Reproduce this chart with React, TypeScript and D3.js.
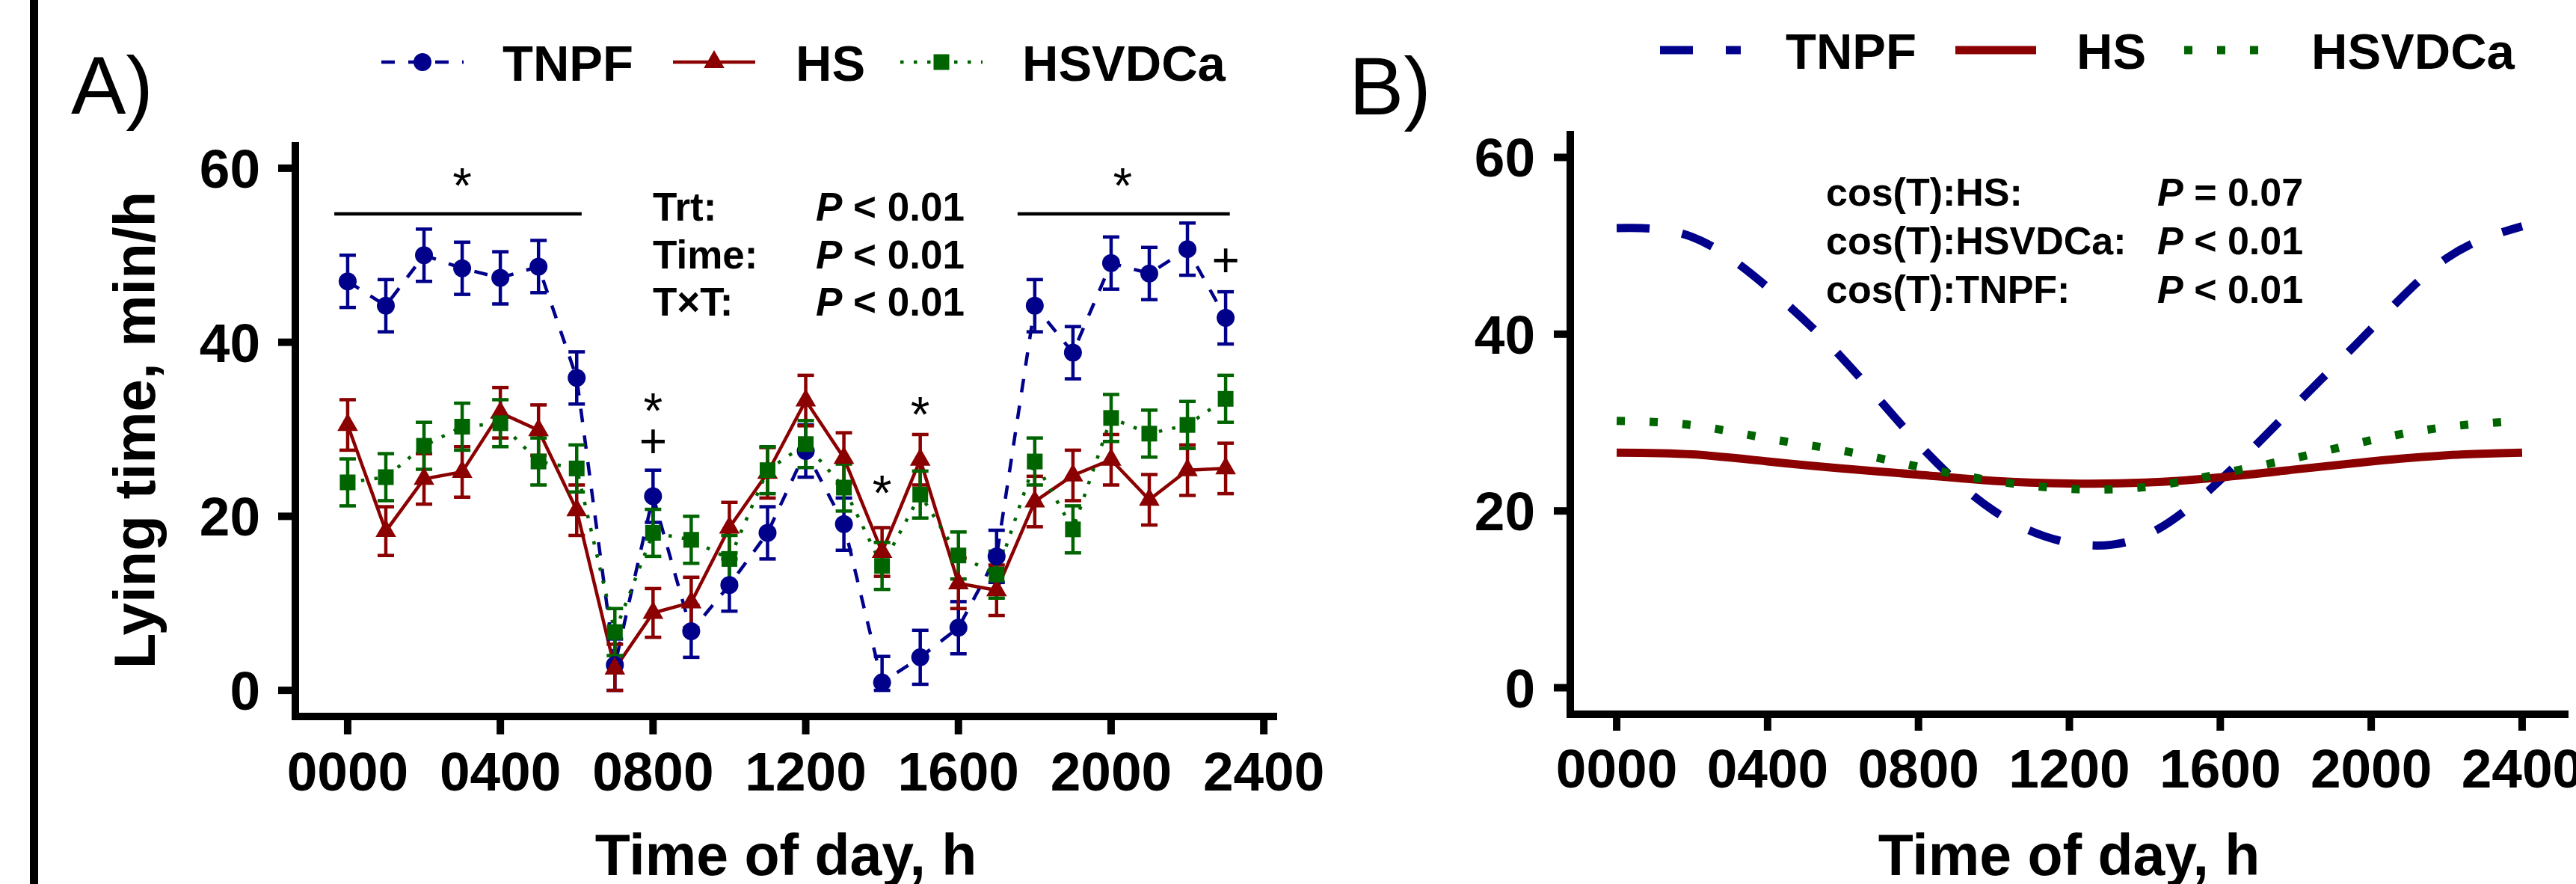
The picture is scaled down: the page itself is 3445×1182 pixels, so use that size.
import React from 'react';
import * as d3 from 'd3';

// hourly means (min/h lying)
const hours = [0, 1, 2, 3, 4, 5, 6, 7, 8, 9, 10, 11, 12, 13, 14, 15, 16, 17, 18, 19, 20, 21, 22, 23];
const tnpfMean = [47.0, 44.2, 50.0, 48.5, 47.4, 48.7, 35.9, 2.9, 22.3, 6.8, 12.1, 18.1, 27.5, 19.1, 0.9, 3.8, 7.2, 15.4, 44.2, 38.8, 49.1, 47.9, 50.7, 42.8];
const tnpfSe = [3.0, 3.0, 3.0, 3.0, 3.0, 3.0, 3.0, 3.0, 3.0, 3.0, 3.0, 3.0, 3.0, 3.0, 3.0, 3.1, 3.0, 3.0, 3.0, 3.0, 3.0, 3.0, 3.0, 3.0];
const hsMean = [30.5, 18.3, 24.3, 25.1, 31.9, 29.9, 20.7, 2.5, 8.9, 10.1, 18.7, 25.0, 33.3, 26.7, 15.9, 26.5, 12.3, 11.5, 21.7, 24.7, 26.5, 21.9, 25.3, 25.5];
const hsSe = [2.9, 2.8, 2.9, 2.9, 2.9, 2.9, 2.9, 2.8, 2.8, 2.9, 2.9, 2.9, 2.9, 2.9, 2.8, 2.9, 2.9, 2.9, 2.9, 2.9, 2.9, 2.9, 2.9, 2.9];
const hsvdcaMean = [23.9, 24.5, 28.1, 30.3, 30.7, 26.3, 25.5, 6.7, 18.1, 17.3, 15.1, 25.3, 28.3, 23.3, 14.3, 22.5, 15.5, 13.3, 26.3, 18.5, 31.3, 29.5, 30.5, 33.5];
const hsvdcaSe = [2.7, 2.7, 2.7, 2.7, 2.7, 2.7, 2.7, 2.7, 2.7, 2.7, 2.7, 2.7, 2.7, 2.7, 2.7, 2.7, 2.7, 2.7, 2.7, 2.7, 2.7, 2.7, 2.7, 2.7];

// fitted cosinor curves
const fitHours = [0, 2, 4, 6, 8, 10, 12, 14, 16, 18, 20, 22, 24];
const tnpfFit = [52.0, 51.0, 45.3, 37.2, 27.6, 20.0, 16.4, 17.2, 23.5, 32.0, 40.6, 48.6, 52.2];
const hsFit = [26.6, 26.4, 25.6, 24.8, 24.1, 23.4, 23.1, 23.2, 23.8, 24.7, 25.6, 26.3, 26.6];
const hsvdcaFit = [30.2, 29.7, 28.2, 26.8, 25.0, 23.4, 22.5, 22.7, 24.2, 26.0, 28.0, 29.5, 30.2];

const xTickValues = [0, 4, 8, 12, 16, 20, 24];
const xTickLabels = ['0000', '0400', '0800', '1200', '1600', '2000', '2400'];
const yTickValues = [0, 20, 40, 60];

const statsA = [
  { label: 'Trt:', op: '<', p: '0.01' },
  { label: 'Time:', op: '<', p: '0.01' },
  { label: 'T\u00d7T:', op: '<', p: '0.01' },
];
const statsB = [
  { label: 'cos(T):HS:', op: '=', p: '0.07' },
  { label: 'cos(T):HSVDCa:', op: '<', p: '0.01' },
  { label: 'cos(T):TNPF:', op: '<', p: '0.01' },
];

// significance marks on panel A, in data units (hour, min/h)
const sigBars = [
  { from: -0.35, to: 6.13, y: 54.75 },
  { from: 17.55, to: 23.11, y: 54.75 },
];
const sigMarks = [
  { h: 3, y: 59.3, s: '*' },
  { h: 20.3, y: 59.3, s: '*' },
  { h: 8, y: 33.4, s: '*' },
  { h: 8, y: 28.6, s: '+' },
  { h: 14, y: 24.0, s: '*' },
  { h: 15, y: 33.0, s: '*' },
  { h: 23, y: 49.4, s: '+' },
];

const BLUE = '#00008B';
const RED = '#8B0000';
const GREEN = '#006400';
const FONT = "'Liberation Sans', Arial, Helvetica, sans-serif";

const seriesA = [
  { name: 'TNPF', mean: tnpfMean, se: tnpfSe, color: BLUE, dash: '18 18', shape: 'circle' },
  { name: 'HS', mean: hsMean, se: hsSe, color: RED, dash: undefined, shape: 'triangle' },
  { name: 'HSVDCa', mean: hsvdcaMean, se: hsvdcaSe, color: GREEN, dash: '4.5 13.5', shape: 'square' },
];
const seriesB = [
  { name: 'TNPF', fit: tnpfFit, color: BLUE, dash: '44 44' },
  { name: 'HS', fit: hsFit, color: RED, dash: undefined },
  { name: 'HSVDCa', fit: hsvdcaFit, color: GREEN, dash: '11 33' },
];

const triPath = d3.symbol(d3.symbolTriangle, 330)();

function Marker({ shape, x, y, color }) {
  if (shape === 'circle') return <circle cx={x} cy={y} r={12} fill={color} />;
  if (shape === 'square') return <rect x={x - 10.5} y={y - 10.5} width={21} height={21} fill={color} />;
  return <path d={triPath} transform={`translate(${x},${y})`} fill={color} />;
}

function Axes({ x, y, xAxisY, yAxisX, xEnd, yTop, tickX, tickY, labelY }) {
  return (
    <g fontFamily={FONT} fontWeight="bold" fontSize={73}>
      <line x1={yAxisX} x2={yAxisX} y1={yTop} y2={xAxisY + 5} stroke="#000" strokeWidth={10} />
      <line x1={yAxisX - 5} x2={xEnd} y1={xAxisY} y2={xAxisY} stroke="#000" strokeWidth={10} />
      {yTickValues.map(v => (
        <g key={'y' + v}>
          <line x1={yAxisX - tickY} x2={yAxisX} y1={y(v)} y2={y(v)} stroke="#000" strokeWidth={10} />
          <text x={yAxisX - 47} y={y(v) + 26} textAnchor="end">{v}</text>
        </g>
      ))}
      {xTickValues.map((v, i) => (
        <g key={'x' + v}>
          <line x1={x(v)} x2={x(v)} y1={xAxisY} y2={xAxisY + tickX} stroke="#000" strokeWidth={10} />
          <text x={x(v)} y={labelY} textAnchor="middle">{xTickLabels[i]}</text>
        </g>
      ))}
    </g>
  );
}

function PanelA() {
  const x = d3.scaleLinear().domain([-1.37, 24.35]).range([395, 1708]);
  const y = d3.scaleLinear().domain([-3, 63]).range([958, 190]);
  const line = d3.line<number>().x((d, i) => x(hours[i])).y(d => y(d));
  const legendKeys = [565, 955, 1259];
  const legendText = [672, 1064, 1367];

  return (
    <g>
      <text x={95} y={152} fontFamily={FONT} fontSize={110}>A)</text>

      {seriesA.map((s, i) => (
        <g key={'lg' + s.name}>
          <line x1={legendKeys[i] - 55} x2={legendKeys[i] + 55} y1={83} y2={83}
            stroke={s.color} strokeWidth={4.5} strokeDasharray={s.dash} />
          <Marker shape={s.shape} x={legendKeys[i]} y={83} color={s.color} />
          <text x={legendText[i]} y={108} fontFamily={FONT} fontWeight="bold" fontSize={67}>{s.name}</text>
        </g>
      ))}

      <Axes x={x} y={y} xAxisY={958} yAxisX={395} xEnd={1708} yTop={190} tickX={24} tickY={23} labelY={1057} />

      <text transform="translate(207,575) rotate(-90)" textAnchor="middle"
        fontFamily={FONT} fontWeight="bold" fontSize={78}>Lying time, min/h</text>
      <text x={1051} y={1170} textAnchor="middle" fontFamily={FONT} fontWeight="bold" fontSize={77}>Time of day, h</text>

      {seriesA.map(s => (
        <path key={'ln' + s.name} d={line(s.mean)} fill="none" stroke={s.color}
          strokeWidth={4.5} strokeDasharray={s.dash} />
      ))}
      {seriesA.map(s => (
        <g key={'eb' + s.name} stroke={s.color} strokeWidth={4.5}>
          {s.mean.map((m, i) => {
            const hi = y(m + s.se[i]);
            const lo = y(Math.max(0, m - s.se[i]));
            const cx = x(hours[i]);
            return (
              <g key={i}>
                <line x1={cx} x2={cx} y1={hi} y2={lo} />
                <line x1={cx - 11} x2={cx + 11} y1={hi} y2={hi} />
                <line x1={cx - 11} x2={cx + 11} y1={lo} y2={lo} />
              </g>
            );
          })}
        </g>
      ))}
      {seriesA.map(s => (
        <g key={'pt' + s.name}>
          {s.mean.map((m, i) => <Marker key={i} shape={s.shape} x={x(hours[i])} y={y(m)} color={s.color} />)}
        </g>
      ))}

      {sigBars.map((b, i) => (
        <line key={'sb' + i} x1={x(b.from)} x2={x(b.to)} y1={y(b.y)} y2={y(b.y)} stroke="#000" strokeWidth={4.5} />
      ))}
      {sigMarks.map((m, i) => (
        <text key={'sm' + i} x={x(m.h)} y={y(m.y) + (m.s === '*' ? 38 : 22)} textAnchor="middle"
          fontFamily={FONT} fontSize={m.s === '*' ? 66 : 64}>{m.s}</text>
      ))}

      <g fontFamily={FONT} fontWeight="bold" fontSize={53}>
        {statsA.map((r, i) => (
          <g key={'st' + i}>
            <text x={873} y={295 + i * 63.5}>{r.label}</text>
            <text x={1091} y={295 + i * 63.5}><tspan fontStyle="italic">P</tspan>{' ' + r.op + ' ' + r.p}</text>
          </g>
        ))}
      </g>
    </g>
  );
}

function PanelB() {
  const x = d3.scaleLinear().domain([-1.23, 25.23]).range([2100, 3435]);
  const y = d3.scaleLinear().domain([-3, 63]).range([955, 175]);
  const line = d3.line<number>().x((d, i) => x(fitHours[i])).y(d => y(d)).curve(d3.curveNatural);
  const legendKeys = [2274, 2669, 2975];
  const legendText = [2388, 2777, 3091];

  return (
    <g>
      <text x={1804} y={153} fontFamily={FONT} fontSize={110}>B)</text>

      {seriesB.map((s, i) => (
        <g key={'lg' + s.name}>
          <line x1={legendKeys[i] - 54} x2={legendKeys[i] + 54} y1={67} y2={67}
            stroke={s.color} strokeWidth={11} strokeDasharray={s.dash} />
          <text x={legendText[i]} y={92} fontFamily={FONT} fontWeight="bold" fontSize={67}>{s.name}</text>
        </g>
      ))}

      <Axes x={x} y={y} xAxisY={955} yAxisX={2100} xEnd={3435} yTop={175} tickX={22} tickY={22} labelY={1053} />

      <text x={2767} y={1170} textAnchor="middle" fontFamily={FONT} fontWeight="bold" fontSize={77}>Time of day, h</text>

      {seriesB.map(s => (
        <path key={'fit' + s.name} d={line(s.fit)} fill="none" stroke={s.color}
          strokeWidth={11} strokeDasharray={s.dash} />
      ))}

      <g fontFamily={FONT} fontWeight="bold" fontSize={52}>
        {statsB.map((r, i) => (
          <g key={'st' + i}>
            <text x={2442} y={275 + i * 65}>{r.label}</text>
            <text x={2885} y={275 + i * 65}><tspan fontStyle="italic">P</tspan>{' ' + r.op + ' ' + r.p}</text>
          </g>
        ))}
      </g>
    </g>
  );
}

export default function App() {
  return (
    <svg width={3445} height={1182} viewBox="0 0 3445 1182"
      style={{ position: 'absolute', left: 0, top: 0, display: 'block', background: '#fff' }}>
      <rect x={0} y={0} width={3445} height={1182} fill="#fff" />
      <rect x={40} y={0} width={11} height={1182} fill="#000" />
      <PanelA />
      <PanelB />
    </svg>
  );
}
